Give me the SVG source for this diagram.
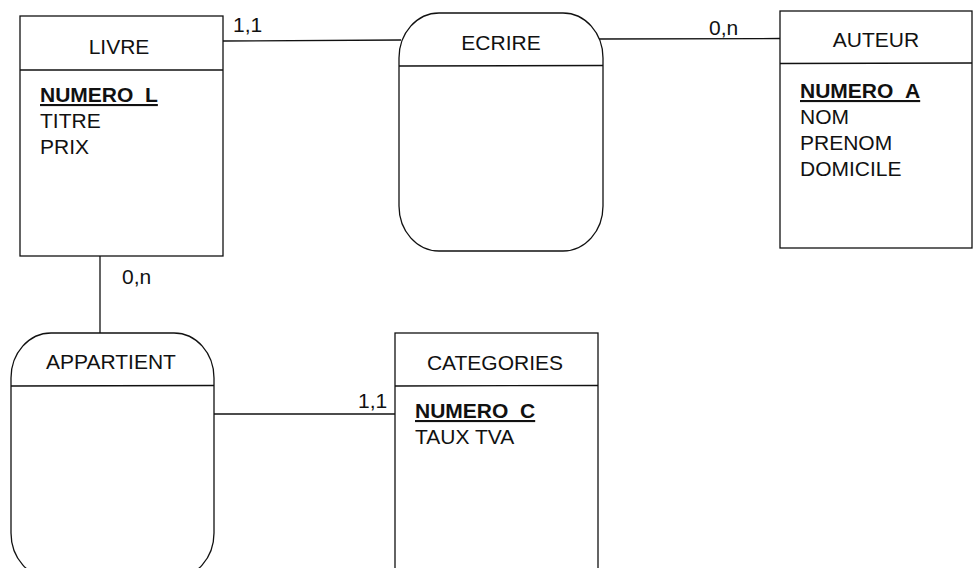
<svg xmlns="http://www.w3.org/2000/svg" width="973" height="568" viewBox="0 0 973 568">
<style>
.box{fill:#fff;stroke:#111;stroke-width:1.3}
.ln{fill:none;stroke:#111;stroke-width:1.3}
text{font-family:"Liberation Sans",Arial,sans-serif;font-size:21px;fill:#111}
.t{text-anchor:middle}
.k{font-weight:bold;text-decoration:underline}
</style>
<rect width="973" height="568" fill="#fff"/>
<g id="connectors">
<line class="ln" x1="223" y1="41" x2="401" y2="40"/>
<line class="ln" x1="597" y1="39" x2="780" y2="38.5"/>
<line class="ln" x1="100" y1="256" x2="100" y2="333"/>
<line class="ln" x1="214" y1="414" x2="395" y2="414"/>
<text x="233" y="32">1,1</text>
<text x="709" y="35">0,n</text>
<text x="122" y="284">0,n</text>
<text x="358" y="408">1,1</text>
</g>
<g id="livre">
<rect class="box" x="20" y="16" width="203" height="240"/>
<line class="ln" x1="20" y1="70" x2="223" y2="70"/>
<text class="t" x="119" y="54">LIVRE</text>
<text class="k" x="40" y="102">NUMERO_L</text>
<text x="40" y="128">TITRE</text>
<text x="40" y="154">PRIX</text>
</g>
<g id="ecrire">
<rect class="box" x="399" y="13" width="204" height="238" rx="40" ry="45"/>
<line class="ln" x1="399" y1="66" x2="603" y2="65.5"/>
<text class="t" x="501" y="50">ECRIRE</text>
</g>
<g id="auteur">
<rect class="box" x="780" y="11" width="192" height="237"/>
<line class="ln" x1="780" y1="63.5" x2="972" y2="63"/>
<text class="t" x="876" y="47">AUTEUR</text>
<text class="k" x="800" y="98">NUMERO_A</text>
<text x="800" y="124">NOM</text>
<text x="800" y="150">PRENOM</text>
<text x="800" y="176">DOMICILE</text>
</g>
<g id="appartient">
<rect class="box" x="11" y="333" width="203" height="245" rx="40" ry="45"/>
<line class="ln" x1="11" y1="386" x2="214" y2="385.5"/>
<text class="t" x="111" y="369">APPARTIENT</text>
</g>
<g id="categories">
<rect class="box" x="395" y="333" width="203" height="250"/>
<line class="ln" x1="395" y1="386" x2="598" y2="385.5"/>
<text class="t" x="495" y="370">CATEGORIES</text>
<text class="k" x="415" y="418">NUMERO_C</text>
<text x="415" y="444">TAUX TVA</text>
</g>
</svg>
